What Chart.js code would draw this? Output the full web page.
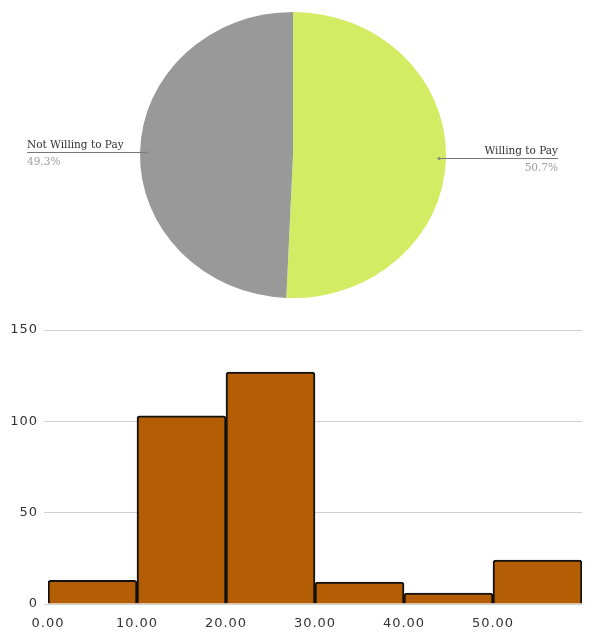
<!DOCTYPE html>
<html lang="en">
<head>
<meta charset="UTF-8">
<meta name="viewport" content="width=device-width, initial-scale=1.0">
<title>Willingness to Pay</title>
<script src="https://cdn.jsdelivr.net/npm/chart.js@4"></script>
<style>
    html, body { margin: 0; padding: 0; background: #fff; }
    .pie-wrap { position: absolute; left: 0; top: 0; width: 597px; height: 310px; }
    .hist-wrap { position: absolute; left: 0; top: 310px; width: 597px; height: 329px; }
</style>
</head>
<body>
<div class="pie-wrap"><canvas id="pieChart"></canvas></div>
<div class="hist-wrap"><canvas id="histChart"></canvas></div>

<script>
    // pie: share of respondents
    const pieLabels = ['Willing to Pay', 'Not Willing to Pay'];
    const pieValues = [50.7, 49.3];
    const pieColors = ['#d4eb64', '#999999'];

    // histogram: amount bins (width 10) and counts
    const binStarts = [0, 10, 20, 30, 40, 50];
    const binWidth = 10;
    const binCounts = [13, 103, 127, 12, 6, 24];
    const yTicks = [0, 50, 100, 150];

    const pieSquash = 0.935; // pie is drawn slightly flattened

    const squashPlugin = {
        id: 'squashPlugin',
        beforeDatasetsDraw(chart) {
            const ctx = chart.ctx;
            const cy = (chart.chartArea.top + chart.chartArea.bottom) / 2;
            ctx.save();
            ctx.translate(0, cy);
            ctx.scale(1, pieSquash);
            ctx.translate(0, -cy);
        },
        afterDatasetsDraw(chart) {
            chart.ctx.restore();
        }
    };

    // leader lines + labels outside the pie
    const calloutPlugin = {
        id: 'calloutPlugin',
        afterDraw(chart) {
            const ctx = chart.ctx;
            const arcs = chart.getDatasetMeta(0).data;
            arcs.forEach((arc, i) => {
                const mid = (arc.startAngle + arc.endAngle) / 2;
                const r = arc.outerRadius * 0.955;
                const px = arc.x + Math.cos(mid) * r;
                const py = arc.y + Math.sin(mid) * r * pieSquash;
                const right = Math.cos(mid) >= 0;
                const endX = right ? arc.x + 265 : arc.x - 266;

                ctx.save();
                ctx.strokeStyle = '#777';
                ctx.lineWidth = 1;
                ctx.beginPath();
                ctx.moveTo(px, Math.round(py) + 0.5);
                ctx.lineTo(endX, Math.round(py) + 0.5);
                ctx.stroke();
                ctx.fillStyle = '#888';
                ctx.beginPath();
                ctx.arc(px, Math.round(py) + 0.5, 1.6, 0, Math.PI * 2);
                ctx.fill();

                ctx.textAlign = right ? 'right' : 'left';
                ctx.textBaseline = 'alphabetic';
                ctx.font = '10.5px "DejaVu Serif"';
                ctx.fillStyle = '#333';
                ctx.fillText(pieLabels[i], endX, Math.round(py) - 4);
                ctx.fillStyle = '#a0a0a0';
                ctx.fillText(pieValues[i].toFixed(1) + '%', endX, Math.round(py) + 13);
                ctx.restore();
            });
        }
    };

    new Chart(document.getElementById('pieChart'), {
        type: 'pie',
        data: {
            labels: pieLabels,
            datasets: [{
                data: pieValues,
                backgroundColor: pieColors,
                borderWidth: 0
            }]
        },
        options: {
            responsive: true,
            maintainAspectRatio: false,
            animation: false,
            layout: { padding: { left: 140, right: 151, top: 2, bottom: 2 } },
            plugins: { legend: { display: false }, tooltip: { enabled: false } }
        },
        plugins: [squashPlugin, calloutPlugin]
    });

    // slightly wider tick lettering on the histogram axes
    const spacingPlugin = {
        id: 'spacingPlugin',
        beforeUpdate(chart) { chart.ctx.letterSpacing = '1px'; },
        beforeDraw(chart) { chart.ctx.letterSpacing = '1px'; }
    };

    const tickFont = { family: 'DejaVu Sans', size: 13 };

    new Chart(document.getElementById('histChart'), {
        type: 'bar',
        data: {
            datasets: [{
                data: binStarts.map((s, i) => ({ x: s + binWidth / 2, y: binCounts[i] })),
                backgroundColor: '#b35e05',
                borderColor: '#111',
                borderWidth: 2,
                borderRadius: 3,
                barPercentage: 1,
                categoryPercentage: 1
            }]
        },
        options: {
            responsive: true,
            maintainAspectRatio: false,
            animation: false,
            layout: { padding: { top: 20, right: 15, bottom: 0, left: 0 } },
            plugins: { legend: { display: false }, tooltip: { enabled: false } },
            scales: {
                x: {
                    type: 'linear',
                    min: 0,
                    max: 60,
                    offset: false,
                    grid: { display: false, offset: false },
                    border: { display: false },
                    ticks: {
                        stepSize: binWidth,
                        color: '#333',
                        font: tickFont,
                        padding: 4,
                        callback: v => v < 60 ? v.toFixed(2) : ''
                    },
                    afterFit(scale) { scale.height = 35; }
                },
                y: {
                    min: 0,
                    max: 150,
                    afterBuildTicks(scale) { scale.ticks = yTicks.map(v => ({ value: v })); },
                    grid: { color: '#d0d0d0', tickLength: 4 },
                    border: { display: false },
                    ticks: { color: '#333', font: tickFont, padding: 6 },
                    afterFit(scale) { scale.width = 48; }
                }
            }
        },
        plugins: [spacingPlugin]
    });
</script>
</body>
</html>
